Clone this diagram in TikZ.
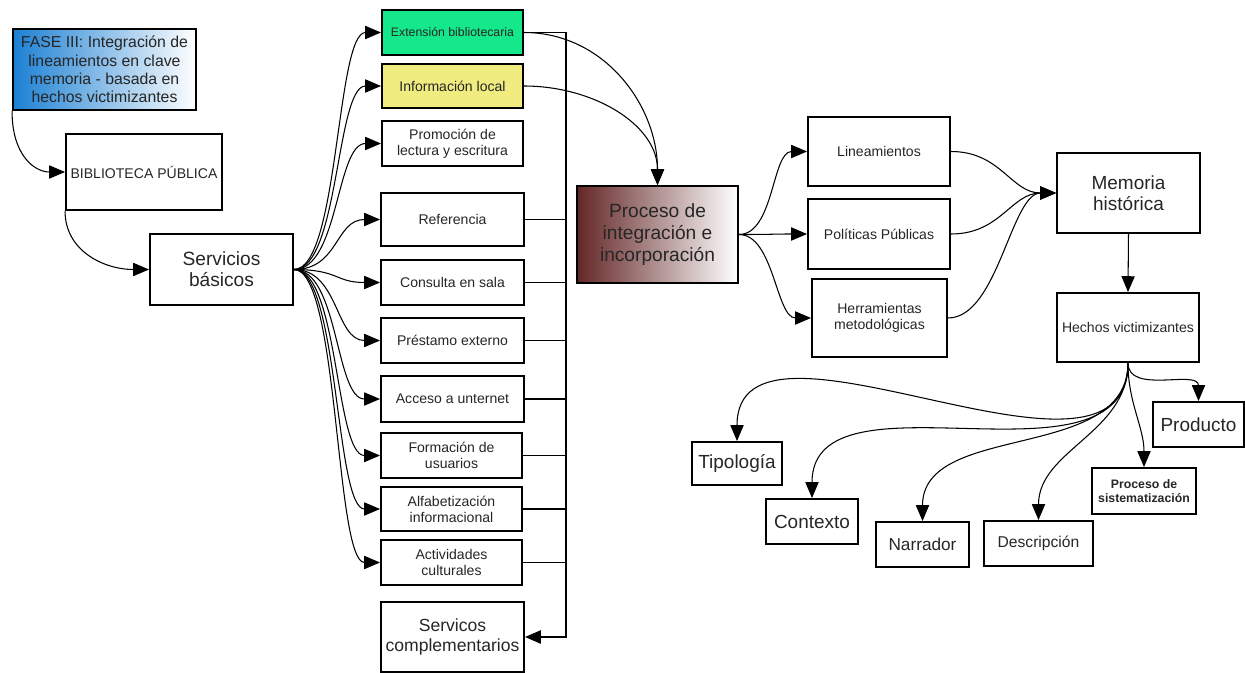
\documentclass[tikz,border=0pt]{standalone}
\usepackage{fontspec}
\setmainfont{Liberation Sans}
\usetikzlibrary{arrows.meta}
\definecolor{faseblue}{RGB}{28,128,212}
\definecolor{procbrown}{RGB}{100,38,38}
\definecolor{extgreen}{RGB}{20,232,138}
\definecolor{infoyellow}{RGB}{240,236,128}

\begin{document}
\begin{tikzpicture}[x=0.02cm, y=-0.02cm,
    box/.style={draw, line width=1.1pt, align=center, inner sep=1pt, text=black!85},
    wh/.style 2 args={minimum width=#1*0.02cm, minimum height=#2*0.02cm},
    fs/.style 2 args={font=\fontsize{#1}{#2}\selectfont},
    arr/.style={-{Triangle[length=9pt, width=7.5pt]}, line width=0.6pt},
    link/.style={line width=0.6pt},
  ]
  \useasboundingbox (0,0) rectangle (1245,673);

  % left part
  \node[box, wh={183}{81}, fs={9}{10.4}, left color=faseblue, right color=white] (fase) at (104.5,69.5)
    {FASE III: Integración de\\lineamientos en clave\\memoria - basada en\\hechos victimizantes};
  \node[box, wh={156}{76}, fs={8}{9.6}] (bib) at (144,172) {BIBLIOTECA PÚBLICA};
  \node[box, wh={143}{71}, fs={10.9}{11.9}] (sb) at (221.5,269.5) {Servicios\\básicos};

  % services column
  \node[box, wh={141}{45}, fs={7}{8.4}, fill=extgreen] (ext) at (452.5,32.5) {Extensión bibliotecaria};
  \node[box, wh={141}{44}, fs={8}{9.6}, fill=infoyellow] (info) at (452.5,86) {Información local};
  \node[box, wh={141}{45}, fs={8}{9}] (prom) at (452.5,143.5) {Promoción de\\lectura y escritura};
  \node[box, wh={143}{53}, fs={8}{9}] (ref) at (452.5,219.5) {Referencia};
  \node[box, wh={143}{45}, fs={8}{9}] (cons) at (452.5,282.5) {Consulta en sala};
  \node[box, wh={143}{45}, fs={8}{9}] (prest) at (452.5,340.5) {Préstamo externo};
  \node[box, wh={143}{46}, fs={8}{9}] (acc) at (452.5,399) {Acceso a unternet};
  \node[box, wh={141}{45}, fs={8}{9}] (form) at (451.5,455.5) {Formación de\\usuarios};
  \node[box, wh={141}{44}, fs={8}{9}] (alf) at (451.5,509) {Alfabetización\\informacional};
  \node[box, wh={141}{45}, fs={8}{9}] (act) at (451.5,562.5) {Actividades\\culturales};
  \node[box, wh={143}{70}, fs={10}{11.7}] (comp) at (452.5,637) {Servicos\\complementarios};

  % middle and right part
  \node[box, wh={161}{97}, fs={10.9}{12.3}, left color=procbrown, right color=white] (proc) at (657.5,234.5)
    {Proceso de\\integración e\\incorporación};
  \node[box, wh={142}{69}, fs={8}{9}] (lin) at (879,151.5) {Lineamientos};
  \node[box, wh={142}{70}, fs={8}{9}] (pol) at (879,234) {Políticas Públicas};
  \node[box, wh={135}{78}, fs={8}{9}] (herr) at (879.5,318) {Herramientas\\metodológicas};
  \node[box, wh={143}{80}, fs={10.8}{12.1}] (mem) at (1128.5,193) {Memoria\\histórica};
  \node[box, wh={142}{69}, fs={8}{9}] (hech) at (1128,327.5) {Hechos victimizantes};
  \node[box, wh={91}{45}, fs={10.8}{12}] (prod) at (1198.5,424.5) {Producto};
  \node[box, wh={90}{43}, fs={10.8}{12}] (tip) at (737,463.5) {Tipología};
  \node[box, wh={92}{45}, fs={10.8}{12}] (ctx) at (812,521.5) {Contexto};
  \node[box, wh={93}{45}, fs={9.8}{11}] (nar) at (922.5,544.5) {Narrador};
  \node[box, wh={109}{45}, fs={8.9}{10}] (desc) at (1038.5,543.5) {Descripción};
  \node[box, wh={104}{46}, font={\fontsize{7}{8.1}\selectfont\bfseries}] (sist) at (1144,491) {Proceso de\\sistematización};

  \coordinate (bus) at (566,32.5);

  % connectors
  \draw[arr] (fase.south west) .. controls +(0,45) and +(-30,0) .. (bib.west);
  \draw[arr] (bib.south west) .. controls +(0,40) and +(-45,0) .. (sb.west);
  \foreach \n in {ext,info,prom,ref,cons,prest,acc,form,alf,act}
    \draw[arr] (sb.east) .. controls +(45,0) and +(-45,0) .. (\n.west);

  \foreach \n in {ref,cons,prest,acc,form,alf,act}
    \draw[link] (\n.east) -- (\n.east -| bus);
  \draw[arr, line width=0.9pt] (ext.east) -- (bus) |- (comp.east);

  \draw[arr] (ext.east) .. controls +(80,0) and +(0,-80) .. (proc.north);
  \draw[arr] (info.east) .. controls +(70,0) and +(0,-60) .. (proc.north);

  \foreach \n in {lin,pol,herr} {
    \draw[arr] (proc.east) .. controls +(35,0) and +(-35,0) .. (\n.west);
    \draw[arr] (\n.east) .. controls +(50,0) and +(-45,0) .. (mem.west);
  }
  \draw[arr] (mem.south) -- (hech.north);

  \foreach \n/\d in {tip/156, ctx/135, nar/100, desc/70, sist/40, prod/32}
    \draw[arr] (hech.south) .. controls +(0,\d) and +(0,-\d) .. (\n.north);
\end{tikzpicture}
\end{document}
